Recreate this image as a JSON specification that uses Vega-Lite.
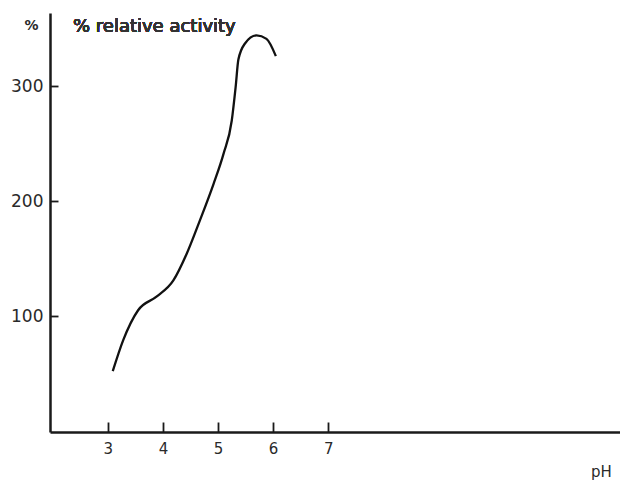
{
  "$schema": "https://vega.github.io/schema/vega-lite/v6.json",
  "width": 570,
  "height": 419,
  "autosize": {"type": "none"},
  "padding": {"left": 50, "top": 13, "right": 0, "bottom": 49},
  "background": "white",
  "config": {
    "view": {"stroke": null},
    "font": "DejaVu Sans",
    "axis": {
      "domainColor": "#1a1a1a",
      "domainWidth": 2.5,
      "tickColor": "#1a1a1a",
      "tickWidth": 1.8,
      "labelColor": "#2a2a2a",
      "titleColor": "#2a2a2a",
      "titleFontWeight": "normal",
      "grid": false
    }
  },
  "data": {
    "values": [
      {"pH": 3.09, "activity": 52},
      {"pH": 3.28, "activity": 79},
      {"pH": 3.55, "activity": 105},
      {"pH": 3.89, "activity": 117},
      {"pH": 4.19, "activity": 131},
      {"pH": 4.43, "activity": 154},
      {"pH": 4.67, "activity": 183},
      {"pH": 4.92, "activity": 215},
      {"pH": 5.1, "activity": 241},
      {"pH": 5.25, "activity": 270},
      {"pH": 5.32, "activity": 299},
      {"pH": 5.37, "activity": 323},
      {"pH": 5.49, "activity": 337},
      {"pH": 5.7, "activity": 344},
      {"pH": 5.88, "activity": 341},
      {"pH": 6.05, "activity": 326}
    ]
  },
  "layer": [
    {
      "mark": {"type": "line", "color": "#111", "strokeWidth": 2.3, "interpolate": "monotone"},
      "encoding": {
        "x": {
          "field": "pH",
          "type": "quantitative",
          "scale": {"domain": [1.951, 12.296], "nice": false, "zero": false},
          "axis": {
            "values": [3, 4, 5, 6, 7],
            "format": "d",
            "tickSize": -10,
            "labelPadding": 19,
            "labelFontSize": 15,
            "title": "pH",
            "titleFontSize": 15,
            "titleX": 551,
            "titleY": 39,
            "titleAlign": "center",
            "titleBaseline": "middle"
          }
        },
        "y": {
          "field": "activity",
          "type": "quantitative",
          "scale": {"domain": [-0.87, 363.5], "nice": false, "zero": false},
          "axis": {
            "values": [100, 200, 300],
            "tickSize": -8,
            "labelPadding": 15,
            "labelFontSize": 17,
            "title": "%",
            "titleFontSize": 14,
            "titleFontWeight": "bold",
            "titleAngle": 0,
            "titleX": -19,
            "titleY": 12,
            "titleAlign": "center",
            "titleBaseline": "middle"
          }
        }
      }
    },
    {
      "mark": {"type": "text", "align": "left", "baseline": "middle", "fontSize": 18, "color": "#333"},
      "encoding": {
        "x": {"datum": 2.368, "type": "quantitative"},
        "y": {"datum": 351, "type": "quantitative"},
        "text": {"value": "% relative activity"}
      }
    }
  ]
}
